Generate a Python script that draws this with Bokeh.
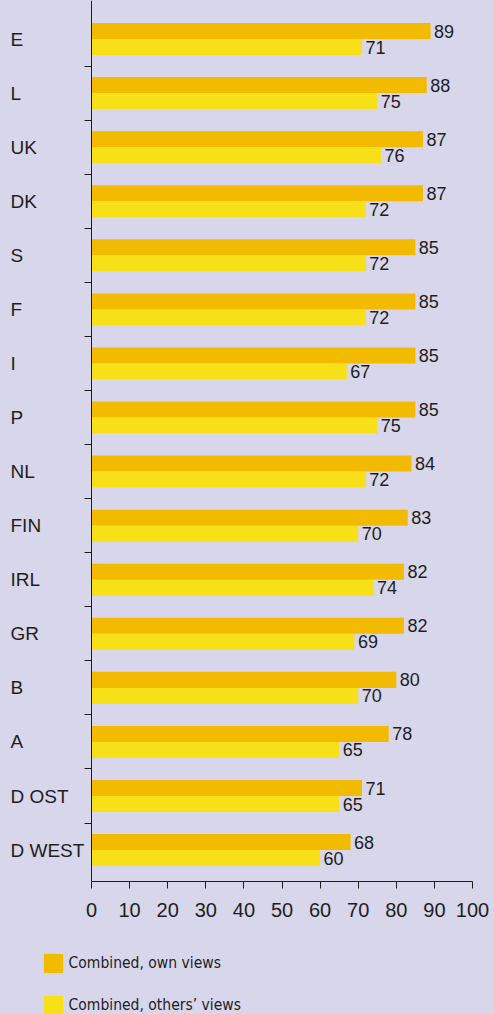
from bokeh.plotting import figure
from bokeh.models import (ColumnDataSource, Range1d, LinearAxis, FixedTicker,
                          Legend, LegendItem)
from bokeh.core.properties import value
from bokeh.embed import file_html
from bokeh.resources import INLINE

# ---- data ----
categories = ["E", "L", "UK", "DK", "S", "F", "I", "P", "NL", "FIN", "IRL",
              "GR", "B", "A", "D OST", "D WEST"]
own_views = [89, 88, 87, 87, 85, 85, 85, 85, 84, 83, 82, 82, 80, 78, 71, 68]
others_views = [71, 75, 76, 72, 72, 72, 67, 75, 72, 70, 74, 69, 70, 65, 65, 60]
x_ticks = [0, 10, 20, 30, 40, 50, 60, 70, 80, 90, 100]
series_names = ["Combined, own views", "Combined, others\u2019 views"]

# ---- style / layout ----
BG = "#d8d6ea"
ORANGE = "#f2bb00"
YELLOW = "#f7e017"
INK = "#1e1e1e"
W, H = 494, 1014
AXIS_X = 91.0          # canvas px of value 0
PPU = 3.81             # px per value unit
TOP = 11.5             # canvas px of top of first slot
SLOT = 54.07           # px per category slot
PAD_BOTTOM = 4.6       # px between last slot and x axis
BAR = 0.148            # half offset of bars (slot units)

n = len(categories)
x_start = -AXIS_X / PPU
x_end = x_start + W / PPU
y_top = -0.5 - TOP / SLOT
y_bottom = y_top + H / SLOT
axis_y = n - 0.5 + PAD_BOTTOM / SLOT

p = figure(width=W, height=H, output_backend="svg", toolbar_location=None,
           x_range=Range1d(x_start, x_end), y_range=Range1d(y_bottom, y_top),
           x_axis_location=None, y_axis_location=None,
           min_border=0, min_border_left=0, min_border_right=0,
           min_border_top=0, min_border_bottom=0)
p.background_fill_color = BG
p.border_fill_color = BG
p.outline_line_color = None
p.grid.visible = False

idx = list(range(n))
src = ColumnDataSource(dict(
    cat=categories, idx=idx,
    own=own_views, oth=others_views,
    y_own=[i - BAR for i in idx], y_oth=[i + BAR for i in idx],
    own_txt=[str(v) for v in own_views], oth_txt=[str(v) for v in others_views],
))

r_own = p.hbar(y="y_own", right="own", left=0, height=2 * BAR, source=src,
               fill_color=ORANGE, line_color=None)
r_oth = p.hbar(y="y_oth", right="oth", left=0, height=2 * BAR, source=src,
               fill_color=YELLOW, line_color=None)

# value labels
for ycol, xcol, tcol in (("y_own", "own", "own_txt"), ("y_oth", "oth", "oth_txt")):
    p.text(x=xcol, y=ycol, text=tcol, source=src, x_offset=3.5,
           text_baseline="middle", text_align="left",
           text_font=value("Liberation Sans"), text_font_size="18px",
           text_color=INK)

# category labels
p.text(x=0, y="idx", text="cat", source=src, x_offset=-81,
       text_baseline="middle", text_align="left",
       text_font=value("Liberation Sans"), text_font_size="19px",
       text_color=INK)

# y axis (line at value 0, ticks between categories)
yax = LinearAxis(fixed_location=0, bounds=(y_top, axis_y),
                 ticker=FixedTicker(ticks=[i + 0.5 for i in range(n - 1)]))
yax.major_tick_in = 0
yax.major_tick_out = 7
yax.minor_tick_line_color = None
yax.major_label_text_font_size = "0px"
yax.major_label_text_alpha = 0
yax.axis_line_color = INK
yax.major_tick_line_color = INK
p.add_layout(yax, "left")

# x axis
xax = LinearAxis(fixed_location=axis_y, bounds=(0, 100),
                 ticker=FixedTicker(ticks=x_ticks))
xax.major_tick_in = 0
xax.major_tick_out = 7
xax.minor_tick_line_color = None
xax.major_label_standoff = 14
xax.major_label_text_font = "Liberation Sans"
xax.major_label_text_font_size = "20px"
xax.major_label_text_color = INK
xax.axis_line_color = INK
xax.major_tick_line_color = INK
p.add_layout(xax, "below")

legend = Legend(items=[LegendItem(label=series_names[0], renderers=[r_own]),
                       LegendItem(label=series_names[1], renderers=[r_oth])],
                location=(40.6, -2.6), orientation="vertical",
                glyph_width=24, glyph_height=24, label_height=24,
                label_standoff=4, spacing=18, padding=0, margin=0,
                background_fill_alpha=0, border_line_alpha=0,
                label_text_font="DejaVu Sans Condensed",
                label_text_font_size="15.5px", label_text_color=INK)
p.add_layout(legend)

html = file_html(p, INLINE)
html = html.replace("</head>", "<style>html,body{background:%s;}</style></head>" % BG, 1)
open("out.html", "w").write(html)
